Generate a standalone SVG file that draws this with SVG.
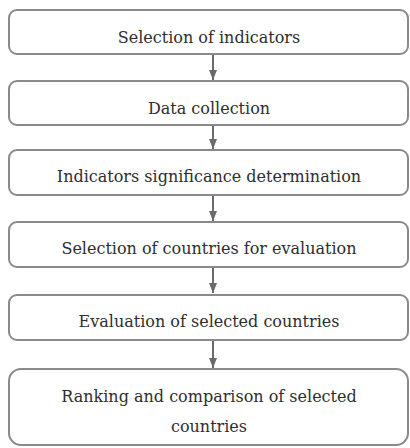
<svg xmlns="http://www.w3.org/2000/svg" width="410" height="448" viewBox="0 0 410 448">
<defs>
<style>
.box{fill:#fff;stroke:#8a8a8a;stroke-width:2}
.lbl{font-family:"DejaVu Serif","Liberation Serif",serif;font-size:16px;fill:#2e2e2e;text-anchor:middle}
.conn{stroke:#6a6a6a;stroke-width:2;fill:none}
</style>
<marker id="ah" viewBox="0 0 10 10" refX="10" refY="5" markerWidth="5" markerHeight="5" orient="auto" markerUnits="strokeWidth">
<path d="M0,1 L10,5 L0,9 z" fill="#6a6a6a"/>
</marker>
</defs>
<rect width="410" height="448" fill="#fff"/>
<g id="connectors">
<line class="conn" x1="213" y1="55" x2="213" y2="80" marker-end="url(#ah)"/>
<line class="conn" x1="213" y1="126" x2="213" y2="149" marker-end="url(#ah)"/>
<line class="conn" x1="213" y1="196" x2="213" y2="221" marker-end="url(#ah)"/>
<line class="conn" x1="213" y1="268" x2="213" y2="293" marker-end="url(#ah)"/>
<line class="conn" x1="213" y1="341" x2="213" y2="368" marker-end="url(#ah)"/>
</g>
<g id="n1"><rect class="box" x="9" y="10" width="399" height="44" rx="8"/><text class="lbl" x="209" y="43">Selection of indicators</text></g>
<g id="n2"><rect class="box" x="9" y="81" width="399" height="44" rx="8"/><text class="lbl" x="209" y="114">Data collection</text></g>
<g id="n3"><rect class="box" x="9" y="150" width="399" height="45" rx="8"/><text class="lbl" x="209" y="182">Indicators significance determination</text></g>
<g id="n4"><rect class="box" x="9" y="222" width="399" height="45" rx="8"/><text class="lbl" x="209" y="254">Selection of countries for evaluation</text></g>
<g id="n5"><rect class="box" x="9" y="295" width="399" height="45" rx="8"/><text class="lbl" x="209" y="327">Evaluation of selected countries</text></g>
<g id="n6"><rect class="box" x="9" y="369" width="399" height="76" rx="12"/><text class="lbl" x="209" y="402">Ranking and comparison of selected</text><text class="lbl" x="209" y="432">countries</text></g>
</svg>
